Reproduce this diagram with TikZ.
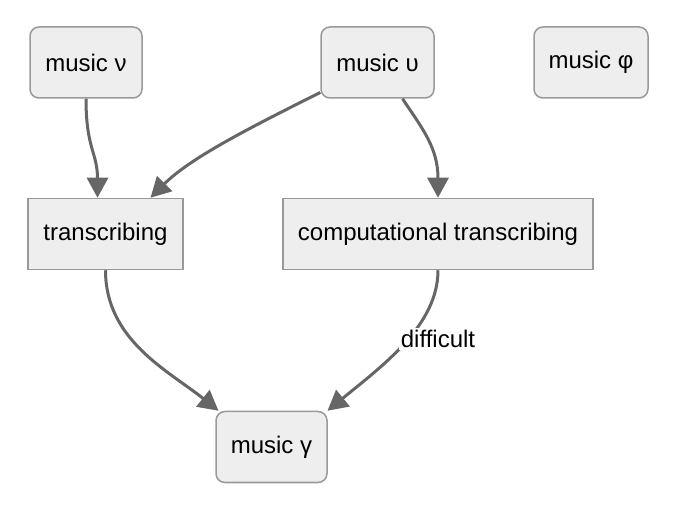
\documentclass[tikz,border=0pt]{standalone}
\usepackage{fontspec}
\setmainfont{Liberation Sans}
\usetikzlibrary{arrows.meta}
\definecolor{boxfill}{HTML}{EEEEEE}
\definecolor{boxline}{HTML}{999999}
\definecolor{edgecol}{HTML}{666666}
\begin{document}
\begin{tikzpicture}[x=1pt,y=-1pt,
  every node/.style={font=\fontsize{24}{28}\selectfont},
  base/.style={draw=boxline,fill=boxfill,line width=1.5pt,minimum height=71pt,inner sep=0pt},
  roundbox/.style={base,rounded corners=9pt,minimum width=112pt},
  sqbox/.style={base},
  edge/.style={draw=edgecol,line width=3pt,-{Triangle[length=20pt,width=21pt]}},
  lbl/.style={fill=white,inner sep=2pt}]
\useasboundingbox (0,0) rectangle (683,510);
\node[roundbox] (nu) at (86,62.5) {music ν};
\node[roundbox,minimum width=113pt] (up) at (377.5,62.5) {music υ};
\node[roundbox,minimum width=114pt] (phi) at (591,62.5) {music φ};
\node[sqbox,minimum width=155pt] (tr) at (105.5,234) {transcribing};
\node[sqbox,minimum width=310pt] (ct) at (438,234) {computational transcribing};
\node[roundbox,minimum width=111pt] (ga) at (271.5,447) {music γ};
\draw[edge] (nu.south) .. controls +(0,50) and +(0,-45) .. ([xshift=-8pt]tr.north);
\draw[edge] ([yshift=-30pt]up.west) .. controls +(-70,35) and +(40,-40) .. ([xshift=45pt]tr.north);
\draw[edge] ([xshift=25pt]up.south) .. controls +(20,30) and +(0,-50) .. (ct.north);
\draw[edge] (tr.south) .. controls +(0,70) and +(-50,-40) .. ([xshift=-53pt]ga.north);
\draw[edge] (ct.south) .. controls +(0,55) and +(55,-45) .. ([xshift=56pt]ga.north);
\node[lbl] (lab) at ([yshift=-69pt]ct.south) {difficult};
\end{tikzpicture}
\end{document}
